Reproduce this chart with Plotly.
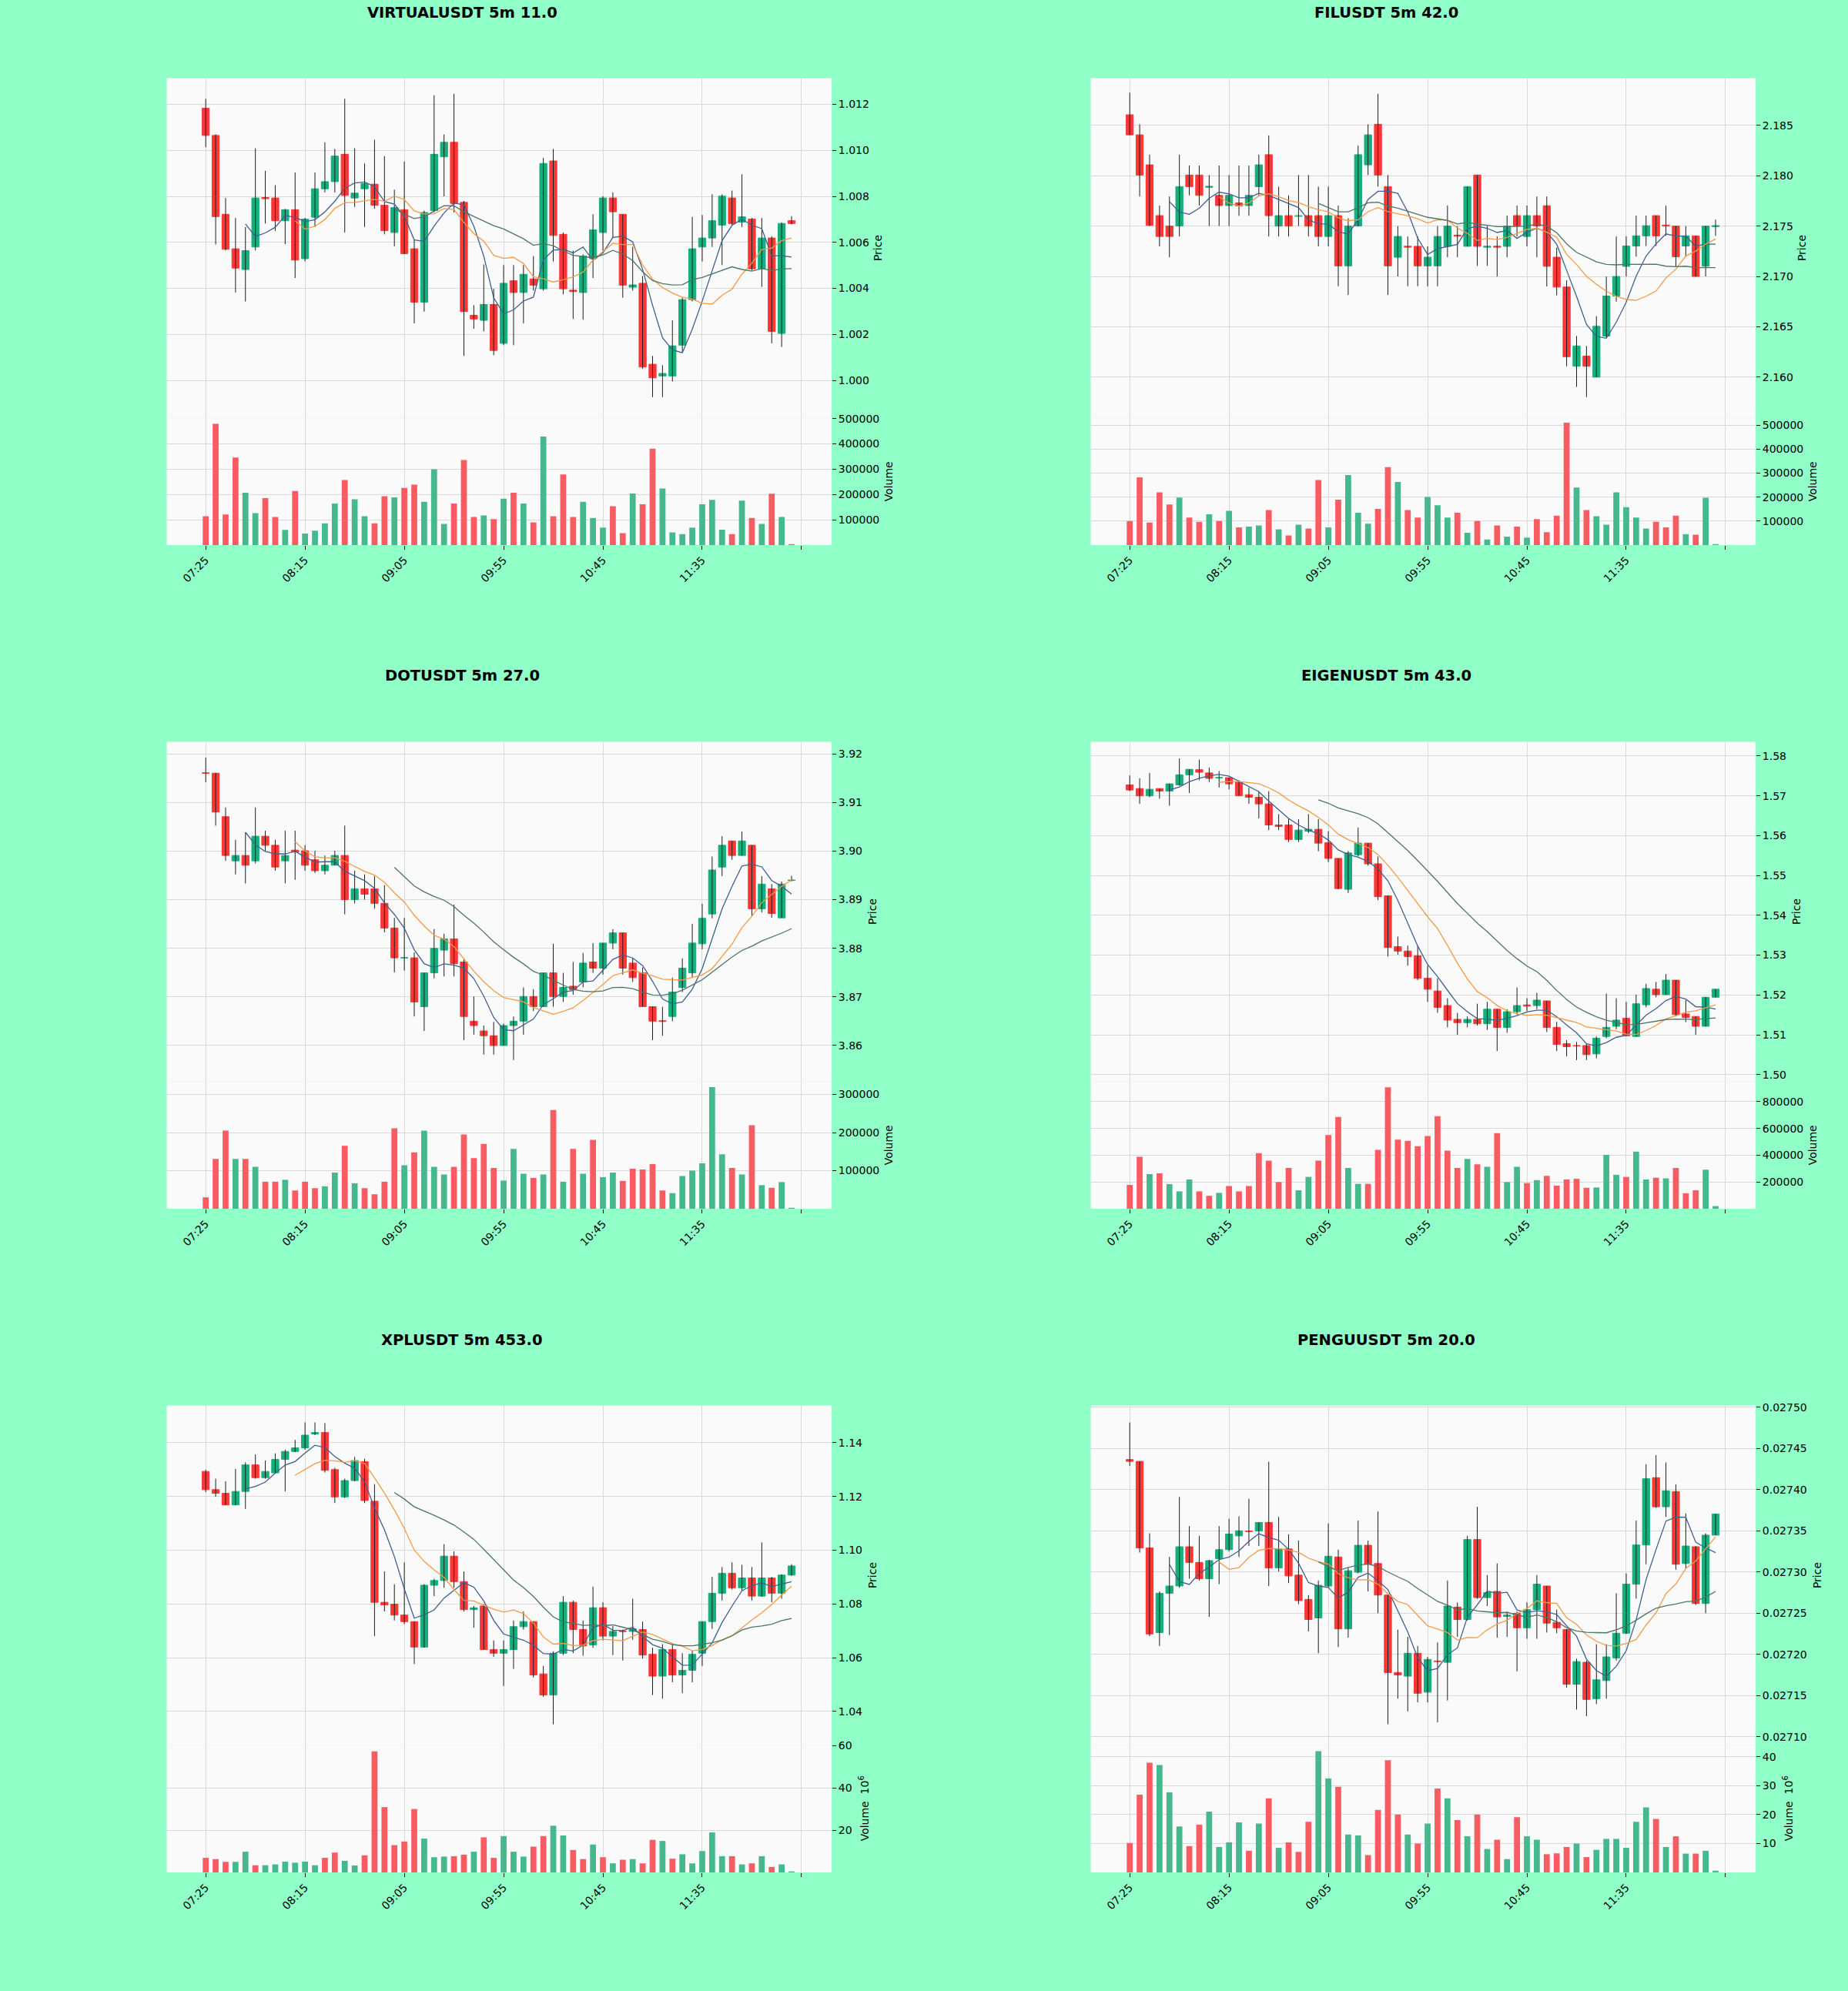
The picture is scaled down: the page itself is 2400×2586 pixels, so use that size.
import plotly.graph_objects as go

# ------------------------------------------------------------------ data
time_tick_index = [0, 10, 20, 30, 40, 50]
time_tick_labels = ["07:25", "08:15", "09:05", "09:55", "10:45", "11:35"]
unlabelled_tick_index = [60]

titles = ["VIRTUALUSDT 5m 11.0", "FILUSDT 5m 42.0", "DOTUSDT 5m 27.0",
          "EIGENUSDT 5m 43.0", "XPLUSDT 5m 453.0", "PENGUUSDT 5m 20.0"]

ma_windows = [5, 10, 20]

# ---- VIRTUALUSDT
virtual_open = [
    1.01183, 1.01065, 1.00722, 1.00572, 1.00482, 1.00580, 1.00795, 1.00793, 1.00694, 1.00742,
    1.00529, 1.00709, 1.00833, 1.00864, 1.00983, 1.00793, 1.00833, 1.00853, 1.00761, 1.00643,
    1.00742, 1.00572, 1.00340, 1.00738, 1.00972, 1.01035, 1.00774, 1.00283, 1.00261, 1.00330,
    1.00161, 1.00433, 1.00382, 1.00441, 1.00398, 1.00954, 1.00635, 1.00392, 1.00382, 1.00529,
    1.00643, 1.00793, 1.00722, 1.00405, 1.00422, 1.00070, 1.00019, 1.00019, 1.00153, 1.00351,
    1.00580, 1.00619, 1.00675, 1.00793, 1.00688, 1.00701, 1.00485, 1.00619, 1.00204, 1.00694]
virtual_high = [
    1.01224, 1.01070, 1.00793, 1.00706, 1.00667, 1.01009, 1.00911, 1.00848, 1.00745, 1.00904,
    1.00706, 1.00904, 1.01035, 1.01006, 1.01224, 1.01009, 1.00943, 1.01046, 1.00975, 1.00829,
    1.00951, 1.00611, 1.00738, 1.01240, 1.01069, 1.01246, 1.00780, 1.00327, 1.00504, 1.00398,
    1.00501, 1.00501, 1.00501, 1.00540, 1.00967, 1.01006, 1.00643, 1.00564, 1.00548, 1.00722,
    1.00801, 1.00817, 1.00722, 1.00580, 1.00453, 1.00106, 1.00066, 1.00261, 1.00359, 1.00711,
    1.00719, 1.00809, 1.00809, 1.00825, 1.00896, 1.00706, 1.00706, 1.00627, 1.00687, 1.00714]
virtual_low = [
    1.01014, 1.00591, 1.00565, 1.00382, 1.00343, 1.00565, 1.00682, 1.00650, 1.00592, 1.00445,
    1.00517, 1.00667, 1.00817, 1.00817, 1.00643, 1.00754, 1.00667, 1.00746, 1.00635, 1.00583,
    1.00548, 1.00248, 1.00299, 1.00730, 1.00800, 1.00730, 1.00106, 1.00224, 1.00213, 1.00109,
    1.00153, 1.00153, 1.00248, 1.00390, 1.00390, 1.00517, 1.00374, 1.00267, 1.00264, 1.00445,
    1.00564, 1.00619, 1.00359, 1.00390, 1.00050, 0.99927, 0.99927, 0.99995, 1.00122, 1.00343,
    1.00517, 1.00580, 1.00501, 1.00675, 1.00667, 1.00477, 1.00406, 1.00161, 1.00145, 1.00678]
virtual_close = [
    1.01065, 1.00712, 1.00570, 1.00488, 1.00564, 1.00793, 1.00790, 1.00694, 1.00742, 1.00523,
    1.00701, 1.00833, 1.00864, 1.00975, 1.00804, 1.00814, 1.00856, 1.00761, 1.00651, 1.00751,
    1.00551, 1.00340, 1.00730, 1.00983, 1.01035, 1.00769, 1.00299, 1.00267, 1.00330, 1.00130,
    1.00422, 1.00382, 1.00461, 1.00414, 1.00943, 1.00630, 1.00398, 1.00386, 1.00540, 1.00654,
    1.00793, 1.00733, 1.00414, 1.00415, 1.00058, 1.00011, 1.00030, 1.00150, 1.00351, 1.00572,
    1.00619, 1.00694, 1.00801, 1.00682, 1.00711, 1.00485, 1.00619, 1.00213, 1.00682, 1.00682]
virtual_volume = [
    114000, 479000, 121000, 346000, 207000, 126000, 186000, 111000, 60000, 214000,
    46000, 57000, 86000, 164000, 257000, 181000, 114000, 86000, 193000, 189000,
    226000, 239000, 171000, 300000, 84000, 164000, 336000, 111000, 117000, 103000,
    183000, 207000, 164000, 90000, 429000, 114000, 279000, 111000, 171000, 107000,
    69000, 154000, 47000, 204000, 161000, 381000, 224000, 50000, 43000, 69000,
    161000, 179000, 61000, 43000, 176000, 107000, 84000, 203000, 111000, 4000]
virtual_price_ticks = [1.000, 1.002, 1.004, 1.006, 1.008, 1.010, 1.012]
virtual_volume_ticks = [100000, 200000, 300000, 400000, 500000]

# ---- FILUSDT
fil_open = [
    2.18605, 2.18406, 2.18108, 2.17604, 2.17500, 2.17500, 2.18007, 2.18007, 2.17885, 2.17805,
    2.17704, 2.17730, 2.17704, 2.17892, 2.18209, 2.17500, 2.17604, 2.17597, 2.17604, 2.17604,
    2.17397, 2.17604, 2.17105, 2.17500, 2.18108, 2.18511, 2.17892, 2.17191, 2.17300, 2.17299,
    2.17105, 2.17105, 2.17299, 2.17410, 2.17299, 2.18007, 2.17290, 2.17300, 2.17299, 2.17604,
    2.17397, 2.17604, 2.17702, 2.17191, 2.16895, 2.16108, 2.16209, 2.16000, 2.16408, 2.16805,
    2.17100, 2.17302, 2.17403, 2.17604, 2.17510, 2.17500, 2.17302, 2.17403, 2.17101, 2.17495]
fil_high = [
    2.18825, 2.18511, 2.18209, 2.17704, 2.17794, 2.18209, 2.18101, 2.18101, 2.18007, 2.18101,
    2.18007, 2.18101, 2.18101, 2.18209, 2.18401, 2.17892, 2.17805, 2.18007, 2.18007, 2.17892,
    2.17892, 2.17704, 2.17578, 2.18299, 2.18511, 2.18814, 2.18007, 2.17500, 2.17397, 2.17397,
    2.17299, 2.17500, 2.17704, 2.17500, 2.17892, 2.18007, 2.17500, 2.17397, 2.17604, 2.17704,
    2.17704, 2.17794, 2.17794, 2.17285, 2.16961, 2.16408, 2.16310, 2.16606, 2.17000, 2.17397,
    2.17397, 2.17604, 2.17604, 2.17604, 2.17702, 2.17500, 2.17500, 2.17403, 2.17500, 2.17565]
fil_low = [
    2.18406, 2.17794, 2.17500, 2.17299, 2.17191, 2.17397, 2.17805, 2.17704, 2.17500, 2.17500,
    2.17500, 2.17602, 2.17602, 2.17805, 2.17397, 2.17397, 2.17397, 2.17500, 2.17397, 2.17299,
    2.17299, 2.16903, 2.16816, 2.17500, 2.18007, 2.17892, 2.16816, 2.17000, 2.16903, 2.16903,
    2.16903, 2.16903, 2.17191, 2.17191, 2.17299, 2.17105, 2.17105, 2.17000, 2.17191, 2.17397,
    2.17299, 2.17191, 2.16900, 2.16812, 2.16108, 2.15903, 2.15802, 2.16000, 2.16390, 2.16750,
    2.17000, 2.17198, 2.17302, 2.17302, 2.17403, 2.17100, 2.17196, 2.17000, 2.17000, 2.17403]
fil_close = [
    2.18406, 2.18007, 2.17507, 2.17397, 2.17397, 2.17892, 2.17892, 2.17805, 2.17895, 2.17704,
    2.17805, 2.17700, 2.17805, 2.18108, 2.17604, 2.17604, 2.17500, 2.17604, 2.17500, 2.17397,
    2.17604, 2.17105, 2.17500, 2.18209, 2.18406, 2.18007, 2.17105, 2.17397, 2.17290, 2.17105,
    2.17191, 2.17397, 2.17500, 2.17400, 2.17892, 2.17299, 2.17300, 2.17290, 2.17500, 2.17500,
    2.17604, 2.17500, 2.17101, 2.16895, 2.16203, 2.16310, 2.16108, 2.16505, 2.16805, 2.17000,
    2.17302, 2.17403, 2.17504, 2.17403, 2.17500, 2.17196, 2.17403, 2.17000, 2.17500, 2.17505]
fil_volume = [
    100000, 282000, 94000, 220000, 169000, 198000, 115000, 97000, 128000, 100000,
    143000, 74000, 77000, 82000, 146000, 66000, 40000, 85000, 69000, 271000,
    74000, 189000, 292000, 135000, 89000, 151000, 325000, 263000, 146000, 115000,
    200000, 166000, 115000, 135000, 51000, 100000, 23000, 82000, 35000, 77000,
    31000, 108000, 54000, 123000, 510000, 240000, 146000, 120000, 85000, 220000,
    158000, 115000, 69000, 97000, 74000, 123000, 46000, 43000, 197000, 2000]
fil_price_ticks = [2.160, 2.165, 2.170, 2.175, 2.180, 2.185]
fil_volume_ticks = [100000, 200000, 300000, 400000, 500000]

# ---- DOTUSDT
dot_open = [
    3.91610, 3.91604, 3.90707, 3.89799, 3.89910, 3.89799, 3.90306, 3.90120, 3.89799, 3.90020,
    3.90007, 3.89821, 3.89596, 3.89709, 3.89910, 3.89000, 3.89224, 3.89224, 3.88925, 3.88417,
    3.87800, 3.87804, 3.86800, 3.87495, 3.87963, 3.88194, 3.87719, 3.86501, 3.86299, 3.86202,
    3.86000, 3.86411, 3.86501, 3.87009, 3.86800, 3.87495, 3.87009, 3.87220, 3.87308, 3.87719,
    3.87592, 3.88108, 3.88318, 3.87696, 3.87495, 3.86800, 3.86510, 3.86598, 3.87196, 3.87495,
    3.88093, 3.88706, 3.89671, 3.90209, 3.89910, 3.90120, 3.88813, 3.89224, 3.88626, 3.89395]
dot_high = [
    3.91925, 3.91604, 3.90896, 3.90232, 3.90381, 3.90896, 3.90419, 3.90232, 3.90419, 3.90419,
    3.90120, 3.90007, 3.89910, 3.90007, 3.90523, 3.89596, 3.89521, 3.89484, 3.89299, 3.88626,
    3.88626, 3.87916, 3.87495, 3.88396, 3.88299, 3.88897, 3.87794, 3.87009, 3.86411, 3.86486,
    3.86448, 3.86598, 3.87196, 3.87158, 3.87495, 3.88093, 3.87495, 3.87719, 3.87906, 3.88108,
    3.88108, 3.88393, 3.88318, 3.87794, 3.87607, 3.86800, 3.86800, 3.87397, 3.87794, 3.88504,
    3.88916, 3.89888, 3.90306, 3.90209, 3.90403, 3.90120, 3.89484, 3.89321, 3.89371, 3.89490]
dot_low = [
    3.91418, 3.90521, 3.89799, 3.89521, 3.89335, 3.89746, 3.90007, 3.89596, 3.89335, 3.89409,
    3.89596, 3.89550, 3.89521, 3.89709, 3.88701, 3.88925, 3.89000, 3.88813, 3.88327, 3.87505,
    3.87542, 3.86598, 3.86300, 3.87383, 3.87420, 3.87420, 3.86112, 3.86224, 3.85813, 3.85813,
    3.86000, 3.85701, 3.86224, 3.86710, 3.86800, 3.86800, 3.86897, 3.87046, 3.87196, 3.87495,
    3.87458, 3.87981, 3.87458, 3.87308, 3.86800, 3.86112, 3.86202, 3.86501, 3.87099, 3.87397,
    3.87981, 3.88617, 3.89484, 3.89821, 3.89910, 3.88664, 3.88738, 3.88626, 3.88626, 3.89380]
dot_close = [
    3.91600, 3.90804, 3.89910, 3.89910, 3.89709, 3.90306, 3.90120, 3.89671, 3.89910, 3.89980,
    3.89709, 3.89596, 3.89709, 3.89910, 3.89000, 3.89224, 3.89112, 3.88925, 3.88417, 3.87804,
    3.87810, 3.86897, 3.87495, 3.88000, 3.88194, 3.87682, 3.86598, 3.86411, 3.86202, 3.86000,
    3.86411, 3.86501, 3.87009, 3.86800, 3.87495, 3.87009, 3.87196, 3.87150, 3.87696, 3.87592,
    3.88108, 3.88318, 3.87592, 3.87397, 3.86800, 3.86501, 3.86495, 3.87099, 3.87592, 3.88108,
    3.88617, 3.89611, 3.90120, 3.89910, 3.90209, 3.88813, 3.89321, 3.88716, 3.89321, 3.89405]
dot_volume = [
    30000, 131000, 205000, 131000, 131000, 110000, 71000, 71000, 76000, 48000,
    71000, 54000, 59000, 95000, 165000, 67000, 54000, 38000, 71000, 211000,
    114000, 148000, 205000, 110000, 90000, 110000, 195000, 133000, 170000, 107000,
    74000, 157000, 92000, 81000, 90000, 259000, 71000, 157000, 92000, 181000,
    83000, 95000, 73000, 105000, 103000, 117000, 48000, 41000, 86000, 100000,
    119000, 319000, 143000, 107000, 90000, 219000, 62000, 55000, 70000, 1000]
dot_price_ticks = [3.86, 3.87, 3.88, 3.89, 3.90, 3.91, 3.92]
dot_volume_ticks = [100000, 200000, 300000]

# ---- EIGENUSDT
eigen_open = [
    1.57275, 1.57182, 1.57000, 1.57182, 1.57118, 1.57274, 1.57528, 1.57657, 1.57575, 1.57450,
    1.57455, 1.57347, 1.57027, 1.56964, 1.56797, 1.56268, 1.56268, 1.55903, 1.56110, 1.56159,
    1.55821, 1.55429, 1.54653, 1.55520, 1.55812, 1.55292, 1.54489, 1.53212, 1.53102, 1.52984,
    1.52418, 1.52099, 1.51734, 1.51387, 1.51305, 1.51387, 1.51277, 1.51642, 1.51186, 1.51579,
    1.51750, 1.51734, 1.51852, 1.51186, 1.50776, 1.50730, 1.50730, 1.50520, 1.50958, 1.51214,
    1.51414, 1.50958, 1.51752, 1.52144, 1.52007, 1.52372, 1.51524, 1.51460, 1.51214, 1.51943]
eigen_high = [
    1.57511, 1.57438, 1.57575, 1.57182, 1.57301, 1.57938, 1.57665, 1.57910, 1.57712, 1.57621,
    1.57455, 1.57393, 1.57208, 1.57117, 1.57117, 1.56542, 1.56432, 1.56414, 1.56542, 1.56414,
    1.56113, 1.55429, 1.55611, 1.56204, 1.55812, 1.55475, 1.54489, 1.53467, 1.53239, 1.53239,
    1.52737, 1.52418, 1.51916, 1.51551, 1.51460, 1.51779, 1.51825, 1.51642, 1.51642, 1.52190,
    1.51916, 1.52053, 1.51852, 1.51323, 1.50867, 1.50821, 1.50776, 1.50958, 1.52035, 1.51916,
    1.51825, 1.52007, 1.52281, 1.52327, 1.52527, 1.52372, 1.51870, 1.51460, 1.51943, 1.52144]
eigen_low = [
    1.57120, 1.56797, 1.56964, 1.56927, 1.56753, 1.57255, 1.57073, 1.57392, 1.57347, 1.57209,
    1.57164, 1.57000, 1.56797, 1.56432, 1.56140, 1.56140, 1.55840, 1.55840, 1.56068, 1.55611,
    1.55338, 1.54653, 1.54562, 1.55475, 1.55246, 1.54380, 1.52965, 1.53011, 1.52737, 1.52372,
    1.51825, 1.51551, 1.51186, 1.51000, 1.51186, 1.51232, 1.51122, 1.50593, 1.51049, 1.51506,
    1.51597, 1.51642, 1.51068, 1.50593, 1.50456, 1.50365, 1.50365, 1.50411, 1.50912, 1.51140,
    1.50958, 1.50958, 1.51688, 1.51943, 1.52007, 1.51460, 1.51320, 1.51000, 1.51214, 1.51943]
eigen_close = [
    1.57146, 1.57000, 1.57164, 1.57118, 1.57301, 1.57528, 1.57665, 1.57593, 1.57438, 1.57460,
    1.57301, 1.57000, 1.56964, 1.56797, 1.56268, 1.56232, 1.55903, 1.56140, 1.56160, 1.55812,
    1.55429, 1.54672, 1.55566, 1.55812, 1.55292, 1.54471, 1.53193, 1.53102, 1.52965, 1.52418,
    1.52144, 1.51688, 1.51369, 1.51305, 1.51387, 1.51277, 1.51642, 1.51186, 1.51579, 1.51734,
    1.51720, 1.51871, 1.51186, 1.50757, 1.50703, 1.50720, 1.50502, 1.50912, 1.51186, 1.51369,
    1.50976, 1.51779, 1.52162, 1.52007, 1.52372, 1.51505, 1.51432, 1.51214, 1.51943, 1.52144]
eigen_volume = [
    178000, 389000, 259000, 265000, 184000, 130000, 219000, 130000, 97000, 119000,
    170000, 130000, 170000, 416000, 359000, 200000, 305000, 138000, 238000, 359000,
    551000, 686000, 305000, 186000, 186000, 440000, 908000, 516000, 508000, 468000,
    543000, 692000, 435000, 305000, 373000, 332000, 314000, 565000, 200000, 314000,
    192000, 214000, 246000, 173000, 219000, 224000, 157000, 159000, 403000, 254000,
    238000, 427000, 219000, 232000, 227000, 305000, 116000, 138000, 292000, 20000]
eigen_price_ticks = [1.50, 1.51, 1.52, 1.53, 1.54, 1.55, 1.56, 1.57, 1.58]
eigen_volume_ticks = [200000, 400000, 600000, 800000]

# ---- XPLUSDT
xpl_open = [
    1.12931, 1.12254, 1.12119, 1.11686, 1.12187, 1.13175, 1.12701, 1.12877, 1.13378, 1.13675,
    1.13810, 1.14325, 1.14379, 1.12999, 1.11984, 1.12593, 1.13296, 1.11822, 1.08060, 1.07992,
    1.07586, 1.07342, 1.06395, 1.08696, 1.08871, 1.09778, 1.08831, 1.07789, 1.07924, 1.06300,
    1.06165, 1.06300, 1.07153, 1.07342, 1.05394, 1.04609, 1.06165, 1.08060, 1.07045, 1.06476,
    1.07857, 1.06801, 1.06985, 1.06977, 1.07045, 1.06124, 1.05313, 1.06300, 1.05353, 1.05529,
    1.06165, 1.07342, 1.08398, 1.09142, 1.08601, 1.08966, 1.08290, 1.08966, 1.08398, 1.09074]
xpl_high = [
    1.12998, 1.12660, 1.12566, 1.13026, 1.13269, 1.13567, 1.13337, 1.13607, 1.13743, 1.14108,
    1.14757, 1.14757, 1.14730, 1.13066, 1.12660, 1.13472, 1.13405, 1.12457, 1.09210, 1.08736,
    1.09548, 1.07342, 1.08736, 1.08939, 1.10225, 1.09954, 1.09210, 1.07924, 1.07992, 1.06639,
    1.06639, 1.07383, 1.07721, 1.07342, 1.05691, 1.06233, 1.08290, 1.08127, 1.07383, 1.08641,
    1.08060, 1.07180, 1.07045, 1.08195, 1.07342, 1.06368, 1.06503, 1.06530, 1.06165, 1.06260,
    1.07342, 1.09007, 1.09372, 1.09548, 1.09453, 1.09372, 1.10292, 1.09007, 1.09101, 1.09480]
xpl_low = [
    1.12160, 1.11984, 1.11673, 1.11673, 1.11537, 1.12660, 1.12660, 1.12863, 1.12187, 1.13648,
    1.13743, 1.14284, 1.12891, 1.11754, 1.11943, 1.12566, 1.11754, 1.06801, 1.07721, 1.07383,
    1.07248, 1.05759, 1.06368, 1.08290, 1.08600, 1.08600, 1.07721, 1.07112, 1.06300, 1.06030,
    1.04947, 1.05583, 1.07045, 1.05258, 1.04541, 1.03526, 1.06097, 1.06165, 1.06070, 1.06368,
    1.06639, 1.06097, 1.05894, 1.06666, 1.05962, 1.04609, 1.04474, 1.05083, 1.04677, 1.05083,
    1.05691, 1.07072, 1.08127, 1.08533, 1.08466, 1.08127, 1.08263, 1.08060, 1.08195, 1.09047]
xpl_close = [
    1.12254, 1.12119, 1.11686, 1.12187, 1.13175, 1.12701, 1.12931, 1.13378, 1.13675, 1.13810,
    1.14284, 1.14379, 1.12972, 1.11984, 1.12593, 1.13337, 1.11849, 1.08060, 1.07965, 1.07586,
    1.07342, 1.06395, 1.08696, 1.08871, 1.09778, 1.08831, 1.07789, 1.07856, 1.06300, 1.06165,
    1.06300, 1.07153, 1.07342, 1.05353, 1.04609, 1.06165, 1.08060, 1.07045, 1.06436, 1.07857,
    1.06801, 1.06977, 1.06970, 1.07072, 1.06097, 1.05313, 1.06300, 1.05353, 1.05529, 1.06124,
    1.07342, 1.08398, 1.09142, 1.08601, 1.08966, 1.08290, 1.08966, 1.08398, 1.09074, 1.09413]
xpl_volume = [
    6.9e6, 6.3e6, 5.0e6, 5.0e6, 9.8e6, 3.4e6, 3.4e6, 3.8e6, 5.1e6, 4.6e6,
    5.1e6, 3.4e6, 6.9e6, 9.4e6, 5.5e6, 3.3e6, 8.1e6, 57.3e6, 30.9e6, 12.9e6,
    14.6e6, 30.0e6, 16.0e6, 7.2e6, 7.5e6, 7.7e6, 8.4e6, 9.8e6, 16.6e6, 6.9e6,
    17.2e6, 9.8e6, 7.5e6, 12.2e6, 17.2e6, 22.1e6, 17.5e6, 10.6e6, 6.3e6, 13.2e6,
    7.2e6, 4.3e6, 6.0e6, 6.3e6, 4.3e6, 15.4e6, 14.9e6, 6.5e6, 8.6e6, 4.3e6,
    10.1e6, 18.9e6, 7.7e6, 7.7e6, 3.8e6, 4.3e6, 7.7e6, 2.6e6, 3.8e6, 0.3e6]
xpl_price_ticks = [1.04, 1.06, 1.08, 1.10, 1.12, 1.14]
xpl_volume_ticks = [20e6, 40e6, 60e6]
xpl_volume_tick_labels = ["20", "40", "60"]

# ---- PENGUUSDT
pengu_open = [
    0.0274364, 0.0274342, 0.0273293, 0.0272265, 0.0272742, 0.0272830, 0.0273306, 0.0273116, 0.0272918, 0.0273160,
    0.0273271, 0.0273438, 0.0273497, 0.0273497, 0.0273601, 0.0273050, 0.0273280, 0.0272962, 0.0272667, 0.0272442,
    0.0272830, 0.0273182, 0.0272310, 0.0272997, 0.0273324, 0.0273103, 0.0272720, 0.0271780, 0.0271736, 0.0272014,
    0.0271542, 0.0271920, 0.0271904, 0.0272574, 0.0272424, 0.0273394, 0.0272689, 0.0272764, 0.0272460, 0.0272499,
    0.0272323, 0.0272543, 0.0272830, 0.0272389, 0.0272301, 0.0271639, 0.0271904, 0.0271463, 0.0271683, 0.0271957,
    0.0272257, 0.0272852, 0.0273328, 0.0274144, 0.0273791, 0.0273976, 0.0273103, 0.0273306, 0.0272618, 0.0273447]
pengu_high = [
    0.0274814, 0.0274342, 0.0273469, 0.0272764, 0.0273183, 0.0273910, 0.0273557, 0.0273438, 0.0273147, 0.0273557,
    0.0273646, 0.0273676, 0.0273888, 0.0273601, 0.0274338, 0.0273668, 0.0273456, 0.0273381, 0.0272720, 0.0272896,
    0.0273588, 0.0273271, 0.0273050, 0.0273623, 0.0273381, 0.0273734, 0.0272720, 0.0272300, 0.0272213, 0.0272102,
    0.0271970, 0.0272146, 0.0272896, 0.0272631, 0.0273438, 0.0273791, 0.0272962, 0.0273103, 0.0272521, 0.0272521,
    0.0272631, 0.0272962, 0.0272830, 0.0272543, 0.0272309, 0.0271948, 0.0271926, 0.0272124, 0.0272124, 0.0272742,
    0.0272984, 0.0273623, 0.0274307, 0.0274417, 0.0274329, 0.0274064, 0.0273712, 0.0273315, 0.0273469, 0.0273703]
pengu_low = [
    0.0274285, 0.0273235, 0.0272221, 0.0272102, 0.0272235, 0.0272808, 0.0272918, 0.0272896, 0.0272455, 0.0272852,
    0.0273249, 0.0273183, 0.0273315, 0.0273315, 0.0272830, 0.0273006, 0.0272865, 0.0272610, 0.0272279, 0.0272014,
    0.0272808, 0.0272089, 0.0272204, 0.0272984, 0.0272764, 0.0272499, 0.0271154, 0.0271463, 0.0271309, 0.0271419,
    0.0271419, 0.0271176, 0.0271441, 0.0272213, 0.0272411, 0.0272675, 0.0272587, 0.0272204, 0.0272213, 0.0271794,
    0.0272190, 0.0272190, 0.0272265, 0.0272257, 0.0271595, 0.0271331, 0.0271251, 0.0271397, 0.0271463, 0.0271926,
    0.0272248, 0.0272675, 0.0273094, 0.0273778, 0.0273668, 0.0273028, 0.0273041, 0.0272600, 0.0272499, 0.0273447]
pengu_close = [
    0.0274342, 0.0273293, 0.0272248, 0.0272742, 0.0272830, 0.0273306, 0.0273116, 0.0272918, 0.0273138, 0.0273271,
    0.0273460, 0.0273500, 0.0273490, 0.0273601, 0.0273050, 0.0273280, 0.0272953, 0.0272653, 0.0272424, 0.0272839,
    0.0273191, 0.0272310, 0.0273015, 0.0273324, 0.0273094, 0.0272720, 0.0271780, 0.0271750, 0.0272014, 0.0271529,
    0.0271939, 0.0271913, 0.0272587, 0.0272424, 0.0273394, 0.0272689, 0.0272750, 0.0272455, 0.0272477, 0.0272323,
    0.0272543, 0.0272852, 0.0272380, 0.0272323, 0.0271639, 0.0271913, 0.0271454, 0.0271692, 0.0271970, 0.0272257,
    0.0272852, 0.0273328, 0.0274131, 0.0273791, 0.0273985, 0.0273094, 0.0273315, 0.0272618, 0.0273447, 0.0273703]
pengu_volume = [
    10.2e6, 26.9e6, 37.9e6, 37.1e6, 27.7e6, 15.9e6, 9.1e6, 16.5e6, 21.0e6, 8.8e6,
    10.4e6, 17.3e6, 7.5e6, 16.9e6, 25.6e6, 8.5e6, 10.4e6, 7.1e6, 17.5e6, 41.9e6,
    32.5e6, 29.6e6, 13.1e6, 12.8e6, 6.0e6, 21.6e6, 38.8e6, 20.0e6, 13.1e6, 10.0e6,
    16.9e6, 29.0e6, 25.6e6, 18.1e6, 12.5e6, 20.0e6, 8.1e6, 11.3e6, 4.6e6, 19.1e6,
    12.5e6, 11.3e6, 6.3e6, 6.6e6, 8.8e6, 10.0e6, 5.3e6, 7.8e6, 11.6e6, 11.6e6,
    8.5e6, 17.5e6, 22.5e6, 18.5e6, 8.8e6, 12.5e6, 6.5e6, 6.5e6, 7.5e6, 0.6e6]
pengu_price_ticks = [0.02710, 0.02715, 0.02720, 0.02725, 0.02730, 0.02735, 0.02740, 0.02745, 0.02750]
pengu_volume_ticks = [10e6, 20e6, 30e6, 40e6]
pengu_volume_tick_labels = ["10", "20", "30", "40"]

# ------------------------------------------------------------------ style / geometry
FIG_W, FIG_H = 2400, 2586
BG = "#90FFC8"
PLOT_BG = "#fafafa"
GRID = "#d9d9d9"
UP, DOWN = "#16ae7c", "#fb3636"
VUP, VDOWN = "#45b88d", "#f85c62"
WICK = "#1e1e1e"
MA_COLORS = ["#3f5f8f", "#f49a45", "#4c7566"]
FONT = "DejaVu Sans"

COL_X = [(216.5, 1080.0), (1416.5, 2280.0)]
ROW_STEP = 862.0
PRICE_TOP, SPLIT, VOL_BOTTOM = 101.5, 542.7, 708.0
TITLE_Y = 16.0
X_RANGE = [-3.93, 63.03]

panels = [
    dict(title=titles[0], o=virtual_open, h=virtual_high, l=virtual_low, c=virtual_close, v=virtual_volume,
         pt=virtual_price_ticks, pf=".3f", pr=[0.99837, 1.01314],
         vt=virtual_volume_ticks, vtt=None, vr=[0, 503000], vlab="Volume", poff=60, voff=74),
    dict(title=titles[1], o=fil_open, h=fil_high, l=fil_low, c=fil_close, v=fil_volume,
         pt=fil_price_ticks, pf=".3f", pr=[2.15596, 2.18969],
         vt=fil_volume_ticks, vtt=None, vr=[0, 530000], vlab="Volume", poff=60, voff=74),
    dict(title=titles[2], o=dot_open, h=dot_high, l=dot_low, c=dot_close, v=dot_volume,
         pt=dot_price_ticks, pf=".2f", pr=[3.8526, 3.92248],
         vt=dot_volume_ticks, vtt=None, vr=[0, 334000], vlab="Volume", poff=53, voff=74),
    dict(title=titles[3], o=eigen_open, h=eigen_high, l=eigen_low, c=eigen_close, v=eigen_volume,
         pt=eigen_price_ticks, pf=".2f", pr=[1.49827, 1.58356],
         vt=eigen_volume_ticks, vtt=None, vr=[0, 951000], vlab="Volume", poff=53, voff=74),
    dict(title=titles[4], o=xpl_open, h=xpl_high, l=xpl_low, c=xpl_close, v=xpl_volume,
         pt=xpl_price_ticks, pf=".2f", pr=[1.02742, 1.15387],
         vt=xpl_volume_ticks, vtt=xpl_volume_tick_labels, vr=[0, 60.2e6],
         vlab="Volume  10<sup>6</sup>", poff=53, voff=42),
    dict(title=titles[5], o=pengu_open, h=pengu_high, l=pengu_low, c=pengu_close, v=pengu_volume,
         pt=pengu_price_ticks, pf=".5f", pr=[0.0270899, 0.027502],
         vt=pengu_volume_ticks, vtt=pengu_volume_tick_labels, vr=[0, 44e6],
         vlab="Volume  10<sup>6</sup>", poff=80, voff=42),
]


def sma(vals, n):
    out = [None] * len(vals)
    for i in range(n - 1, len(vals)):
        out[i] = sum(vals[i - n + 1:i + 1]) / n
    return out


def nm(base, k):
    return base if k == 1 else f"{base}{k}"


fig = go.Figure()
layout = {}
annotations = []
tick_font = dict(family=FONT, size=14, color="#000000")

for p, pan in enumerate(panels):
    row, col = divmod(p, 2)
    kp, kv = 2 * p + 1, 2 * p + 2
    x0px, x1px = COL_X[col]
    top = PRICE_TOP + ROW_STEP * row
    split = SPLIT + ROW_STEP * row
    bottom = VOL_BOTTOM + ROW_STEP * row
    xdom = [x0px / FIG_W, x1px / FIG_W]
    ydom_p = [1 - split / FIG_H, 1 - top / FIG_H]
    ydom_v = [1 - bottom / FIG_H, 1 - split / FIG_H]

    n = len(pan["c"])
    idx = list(range(n))
    o, h, l, c, v = pan["o"], pan["h"], pan["l"], pan["c"], pan["v"]
    up = [c[i] >= o[i] for i in idx]

    # wicks
    wx, wy = [], []
    for i in idx:
        wx += [i, i, None]
        wy += [l[i], h[i], None]
    fig.add_trace(go.Scatter(x=wx, y=wy, mode="lines", line=dict(color=WICK, width=1),
                             xaxis=nm("x", kp), yaxis=nm("y", kp), hoverinfo="skip"))
    # bodies
    body_col = [UP if u else DOWN for u in up]
    fig.add_trace(go.Bar(x=idx, y=[abs(c[i] - o[i]) for i in idx], base=[min(o[i], c[i]) for i in idx],
                         width=0.72, marker=dict(color=body_col, line=dict(color=body_col, width=1)),
                         xaxis=nm("x", kp), yaxis=nm("y", kp), hoverinfo="skip"))
    # moving averages
    for w, mc in zip(ma_windows, MA_COLORS):
        fig.add_trace(go.Scatter(x=idx, y=sma(c, w), mode="lines", line=dict(color=mc, width=1.3),
                                 xaxis=nm("x", kp), yaxis=nm("y", kp), hoverinfo="skip"))
    # volume
    vcol = [VUP if u else VDOWN for u in up]
    fig.add_trace(go.Bar(x=idx, y=v, width=0.6, marker=dict(color=vcol, line=dict(width=0)),
                         xaxis=nm("x", kv), yaxis=nm("y", kv), hoverinfo="skip"))

    common_x = dict(domain=xdom, range=X_RANGE, tickmode="array", tickvals=time_tick_index,
                    showgrid=True, gridcolor=GRID, gridwidth=1.2, zeroline=False, showline=False,
                    automargin=False)
    layout[nm("xaxis", kp)] = dict(common_x, anchor=nm("y", kp), showticklabels=False, ticks="",
                                   minor=dict(tickvals=unlabelled_tick_index, showgrid=True,
                                              gridcolor=GRID, gridwidth=1.2, ticks=""))
    layout[nm("xaxis", kv)] = dict(common_x, anchor=nm("y", kv), ticktext=time_tick_labels,
                                   showticklabels=True, ticks="outside", ticklen=5, tickwidth=1,
                                   tickcolor="#000", tickangle=-45, tickfont=tick_font,
                                   minor=dict(tickvals=unlabelled_tick_index, showgrid=True,
                                              gridcolor=GRID, gridwidth=1.2, ticks="outside",
                                              ticklen=5, tickwidth=1, tickcolor="#000"))
    common_y = dict(side="right", showgrid=True, gridcolor=GRID, gridwidth=1.2, zeroline=False,
                    showline=False, ticks="outside", ticklen=5, tickwidth=1, tickcolor="#000",
                    tickfont=tick_font, automargin=False, tickmode="array")
    layout[nm("yaxis", kp)] = dict(common_y, domain=ydom_p, anchor=nm("x", kp), range=pan["pr"],
                                   tickvals=pan["pt"], tickformat=pan["pf"])
    vy = dict(common_y, domain=ydom_v, anchor=nm("x", kv), range=pan["vr"], tickvals=pan["vt"])
    if pan["vtt"] is not None:
        vy["ticktext"] = pan["vtt"]
    else:
        vy["tickformat"] = "d"
    layout[nm("yaxis", kv)] = vy

    # titles and axis labels
    annotations.append(dict(text=f"<b>{pan['title']}</b>", xref="paper", yref="paper",
                            x=0.25 + 0.5 * col, y=1 - (TITLE_Y + ROW_STEP * row) / FIG_H,
                            xanchor="center", yanchor="middle", showarrow=False,
                            font=dict(family=FONT, size=19.5, color="#000")))
    annotations.append(dict(text="Price", xref="paper", yref="paper",
                            x=(x1px + pan["poff"]) / FIG_W, y=(ydom_p[0] + ydom_p[1]) / 2,
                            xanchor="center", yanchor="middle", textangle=-90, showarrow=False,
                            font=dict(family=FONT, size=14, color="#000")))
    annotations.append(dict(text=pan["vlab"], xref="paper", yref="paper",
                            x=(x1px + pan["voff"]) / FIG_W, y=(ydom_v[0] + ydom_v[1]) / 2,
                            xanchor="center", yanchor="middle", textangle=-90, showarrow=False,
                            font=dict(family=FONT, size=14, color="#000")))

fig.update_layout(template="none", width=FIG_W, height=FIG_H, autosize=False,
                  paper_bgcolor=BG, plot_bgcolor=PLOT_BG, margin=dict(l=0, r=0, t=0, b=0),
                  showlegend=False, barmode="overlay", font=dict(family=FONT, size=14, color="#000"),
                  annotations=annotations, **layout)

fig.write_html("out.html", config={"displayModeBar": False},
               post_script="document.body.style.margin='0';document.body.style.background='#90FFC8';")
